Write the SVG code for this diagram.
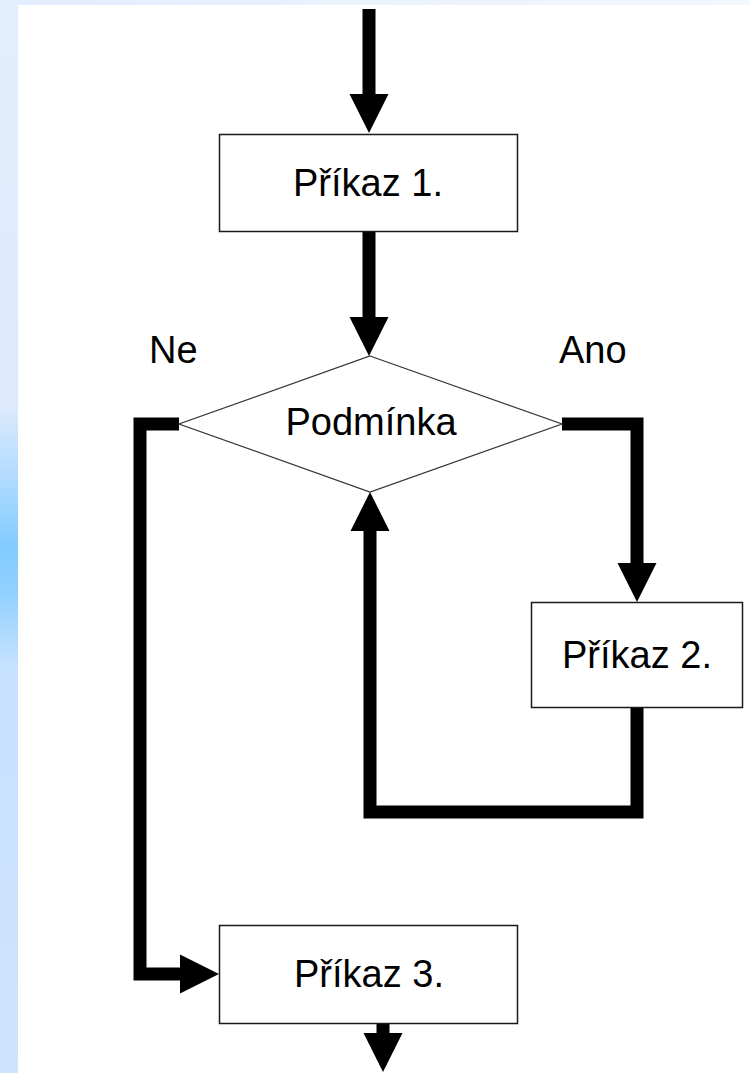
<svg xmlns="http://www.w3.org/2000/svg" width="750" height="1073" viewBox="0 0 750 1073">
<defs>
<linearGradient id="side" x1="0" y1="0" x2="0" y2="1">
<stop offset="0" stop-color="#E2EEFD"/>
<stop offset="0.38" stop-color="#DCEAFC"/>
<stop offset="0.44" stop-color="#B5DCFF"/>
<stop offset="0.51" stop-color="#82CCFF"/>
<stop offset="0.55" stop-color="#8FD0FF"/>
<stop offset="0.62" stop-color="#C6E1FE"/>
<stop offset="1" stop-color="#CFE4FD"/>
</linearGradient>
<linearGradient id="topg" x1="0" y1="0" x2="1" y2="0">
<stop offset="0" stop-color="#E2EEFD"/>
<stop offset="1" stop-color="#F3F7FE"/>
</linearGradient>
<marker id="ah" markerUnits="userSpaceOnUse" markerWidth="40" markerHeight="40" refX="0" refY="19.5" orient="auto" overflow="visible">
<path d="M0,0 L39,19.5 L0,39 Z" fill="#000"/>
</marker>
<style>
.box{fill:#fff;stroke:#1a1a1a;stroke-width:1.5}
.dia{fill:#fff;stroke:#333;stroke-width:1.2}
.lbl{font-family:"Liberation Sans",Arial,sans-serif;font-size:38px;fill:#000}
.c{text-anchor:middle}
.con{fill:none;stroke:#000;stroke-width:13;stroke-linejoin:miter;stroke-linecap:butt;marker-end:url(#ah)}
</style>
</defs>
<rect x="0" y="0" width="750" height="1073" fill="#fff"/>
<rect x="0" y="0" width="18" height="1073" fill="url(#side)"/>
<rect x="18" y="0" width="732" height="5" fill="url(#topg)"/>

<g id="connectors">
<path class="con" d="M369 9 V94"/>
<path class="con" d="M369 232 V317"/>
<path class="con" d="M562 424 H637 V563"/>
<path class="con" d="M637 708 V812 H370 V531"/>
<path class="con" d="M179 424 H140 V974 H180"/>
<path class="con" d="M383 1024 V1033"/>
</g>

<g id="prikaz1">
<rect class="box" x="219.5" y="134.5" width="298" height="97"/>
<text class="lbl c" x="368" y="196">Příkaz 1.</text>
</g>
<g id="podminka">
<polygon class="dia" points="370,356 562,424 370,492 179,424"/>
<text class="lbl c" x="371" y="435">Podmínka</text>
</g>
<g id="label-ne">
<text class="lbl" x="149" y="363">Ne</text>
</g>
<g id="label-ano">
<text class="lbl" x="559" y="363">Ano</text>
</g>
<g id="prikaz2">
<rect class="box" x="531.5" y="602.5" width="211" height="105"/>
<text class="lbl c" x="637" y="668">Příkaz 2.</text>
</g>
<g id="prikaz3">
<rect class="box" x="219.5" y="925.5" width="298" height="98"/>
<text class="lbl c" x="369" y="987">Příkaz 3.</text>
</g>
</svg>
